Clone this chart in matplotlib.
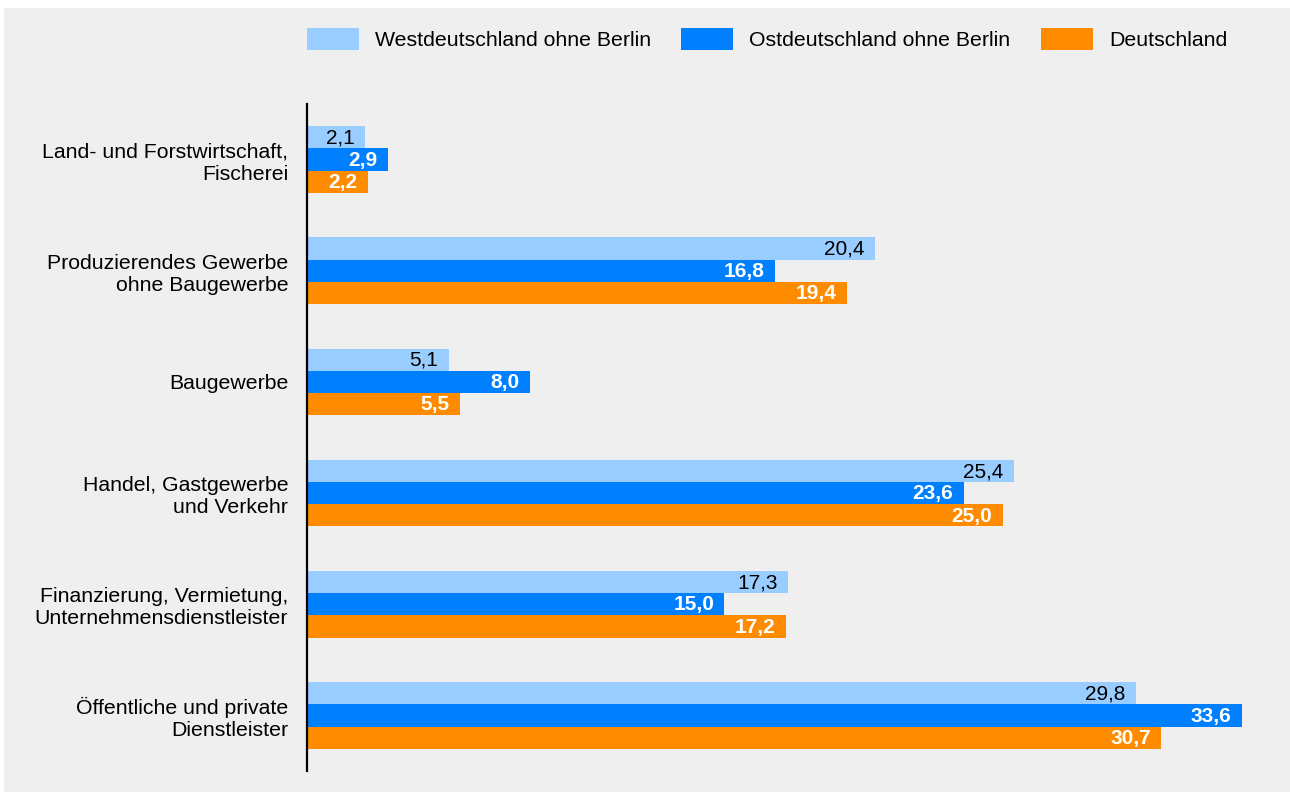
import numpy as np
import matplotlib.pyplot as plt
from matplotlib.patches import Rectangle

plt.rcParams['font.family'] = ['Liberation Sans', 'DejaVu Sans']

# Daten
kategorien = ['Land- und Forstwirtschaft,\nFischerei',
              'Produzierendes Gewerbe\nohne Baugewerbe',
              'Baugewerbe',
              'Handel, Gastgewerbe\nund Verkehr',
              'Finanzierung, Vermietung,\nUnternehmensdienstleister',
              'Öffentliche und private\nDienstleister']
west = [2.1, 20.4, 5.1, 25.4, 17.3, 29.8]
ost = [2.9, 16.8, 8.0, 23.6, 15.0, 33.6]
deutschland = [2.2, 19.4, 5.5, 25.0, 17.2, 30.7]
serien = ['Westdeutschland ohne Berlin', 'Ostdeutschland ohne Berlin', 'Deutschland']
farben = ['#99ccff', '#007fff', '#ff8c00']

W, H = 1290, 794
fs = 15.3
fig = plt.figure(figsize=(W / 100, H / 100), dpi=100, facecolor='white')
bg = '#efefef'
fig.patches.append(Rectangle((4 / W, 2 / H), (W - 4) / W, (H - 10) / H,
                             transform=fig.transFigure, facecolor=bg,
                             edgecolor='none', zorder=-10))

ax = fig.add_axes([307 / W, 23 / H, (1281 - 307) / W, (771 - 104) / H])
ax.set_facecolor('none')

y = np.arange(len(kategorien))
h = 0.2
werte = [west, ost, deutschland]
for k, (vals, col) in enumerate(zip(werte, farben)):
    pos = y + (k - 1) * h
    ax.barh(pos, vals, height=h, color=col, edgecolor='none')
    for p, v in zip(pos, vals):
        txt = f'{v:.1f}'.replace('.', ',')
        if k == 0:
            ax.annotate(txt, (v, p), xytext=(-7.5, -0.5), textcoords='offset points',
                        ha='right', va='center', fontsize=15, color='black')
        else:
            ax.annotate(txt, (v, p), xytext=(-7.5, -0.5), textcoords='offset points',
                        ha='right', va='center', fontsize=15, color='white',
                        fontweight='bold')

ax.set_xlim(0, 35)
ax.set_ylim(5.5, -0.5)
ax.set_yticks(y)
ax.set_yticklabels(kategorien, fontsize=fs, ha='right', linespacing=1.2)
ax.tick_params(axis='y', length=0, pad=13.5)
ax.set_xticks([])
for s in ['top', 'right', 'bottom']:
    ax.spines[s].set_visible(False)
ax.spines['left'].set_linewidth(1.6)
ax.spines['left'].set_color('black')

# Legende
leg_x = [307, 681, 1041]
for lx, name, col in zip(leg_x, serien, farben):
    fig.patches.append(Rectangle((lx / W, (H - 50) / H), 52 / W, 22 / H,
                                 transform=fig.transFigure, facecolor=col,
                                 edgecolor='none'))
    fig.text((lx + 68) / W, (H - 41) / H, name, fontsize=fs,
             ha='left', va='center')

fig.savefig('out.png', dpi=100, facecolor='white')
